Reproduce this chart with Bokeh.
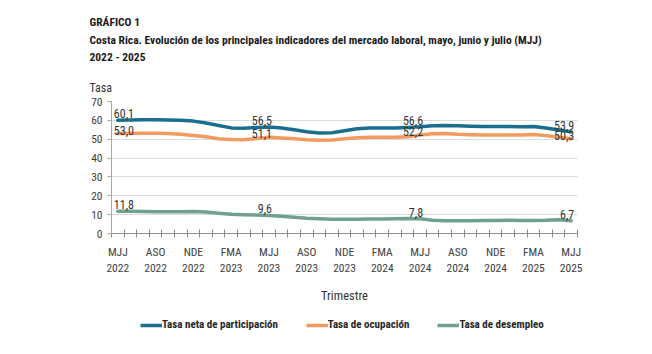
from bokeh.plotting import figure
from bokeh.layouts import column
from bokeh.models import FixedTicker, Legend, LegendItem, ColumnDataSource, Title, LinearAxis
from bokeh.embed import file_html
from bokeh.resources import INLINE
from bokeh.core.properties import value

FONT = "'Liberation Sans Narrow', 'Noto Sans Condensed', 'Roboto Condensed', 'DejaVu Sans Condensed', sans-serif"

# ---- data ----
months = list(range(37))  # rolling quarters MJJ 2022 ... MJJ 2025
tick_pos = [0, 3, 6, 9, 12, 15, 18, 21, 24, 27, 30, 33, 36]
quarter_labels = ["MJJ", "ASO", "NDE", "FMA", "MJJ", "ASO", "NDE", "FMA",
                  "MJJ", "ASO", "NDE", "FMA", "MJJ"]
year_labels = ["2022", "2022", "2022", "2023", "2023", "2023", "2023", "2024",
               "2024", "2024", "2024", "2025", "2025"]
y_ticks = [0, 10, 20, 30, 40, 50, 60, 70]

participacion = [60.1, 60.2, 60.3, 60.3, 60.2, 60.0, 59.6, 58.6, 57.3, 56.0,
                 55.8, 56.2, 56.5, 56.0, 55.0, 54.0, 53.3, 53.4, 54.5, 55.5,
                 55.9, 56.0, 55.9, 56.2, 56.6, 57.2, 57.3, 57.1, 56.9, 56.8,
                 56.8, 56.7, 56.6, 56.8, 56.0, 54.9, 53.9]
ocupacion = [53.0, 53.0, 53.1, 53.2, 53.0, 52.6, 52.0, 51.3, 50.3, 49.8,
             49.7, 50.4, 51.1, 50.7, 50.2, 49.7, 49.4, 49.6, 50.2, 50.8,
             51.0, 51.1, 51.1, 51.3, 52.2, 52.9, 53.0, 52.6, 52.4, 52.3,
             52.3, 52.2, 52.3, 52.5, 51.9, 51.0, 50.3]
desempleo = [11.8, 11.8, 11.7, 11.6, 11.6, 11.6, 11.7, 11.4, 10.8, 10.2,
             10.0, 9.8, 9.6, 9.2, 8.6, 8.1, 7.8, 7.6, 7.5, 7.6,
             7.7, 7.7, 7.8, 8.0, 7.8, 7.0, 6.7, 6.7, 6.8, 6.9,
             6.9, 7.0, 6.9, 6.9, 7.0, 7.3, 6.7]
label_idx = [0, 12, 24, 36]

series_names = ["Tasa neta de participación", "Tasa de ocupación", "Tasa de desempleo"]
colors = ["#1b6f8e", "#f39a5f", "#6fa090"]
series = [participacion, ocupacion, desempleo]
label_dy = [-2, 1, -2]

p = figure(width=652, height=310,
           x_range=(-0.5, 36.5), y_range=(0, 70),
           output_backend="svg", toolbar_location=None,
           min_border_left=111, min_border_right=75,
           min_border_top=101, min_border_bottom=77)
p.title_location = None
p.outline_line_color = None
p.background_fill_color = "white"
p.border_fill_color = "white"

for vals, col in zip(series, colors):
    p.line(months, vals, line_color=col, line_width=3.5, line_join="round", line_cap="round")

# data labels
for vals, dy in zip(series, label_dy):
    first = ColumnDataSource(dict(x=[label_idx[0]], y=[vals[label_idx[0]]],
                                  t=[f"{vals[label_idx[0]]:.1f}".replace(".", ",")]))
    rest = ColumnDataSource(dict(x=label_idx[1:], y=[vals[i] for i in label_idx[1:]],
                                 t=[f"{vals[i]:.1f}".replace(".", ",") for i in label_idx[1:]]))
    p.text("x", "y", text="t", source=first, text_align="left", text_baseline="bottom",
           x_offset=-4, y_offset=dy, text_font=value(FONT), text_font_size="12px",
           text_color="#333333")
    p.text("x", "y", text="t", source=rest, text_align="right", text_baseline="bottom",
           x_offset=3, y_offset=dy, text_font=value(FONT), text_font_size="12px",
           text_color="#333333")

# x axis 1: month ticks + quarter labels
xa = p.xaxis[0]
xa.ticker = FixedTicker(ticks=tick_pos, minor_ticks=[i - 0.5 for i in range(38)])
xa.major_label_overrides = {t: l for t, l in zip(tick_pos, quarter_labels)}
xa.major_tick_in = 0
xa.major_tick_out = 0
xa.minor_tick_in = 4
xa.minor_tick_out = 4
xa.minor_tick_line_color = "#8c8c8c"
xa.axis_line_color = "#8c8c8c"
xa.major_label_standoff = 7
xa.major_label_text_font = FONT
xa.major_label_text_font_size = "11.5px"
xa.major_label_text_color = "#404040"

# x axis 2: year labels + axis title
xa2 = LinearAxis(ticker=FixedTicker(ticks=tick_pos),
                 major_label_overrides={t: l for t, l in zip(tick_pos, year_labels)},
                 axis_line_color=None, major_tick_line_color=None, minor_tick_line_color=None,
                 major_tick_in=0, major_tick_out=0, major_label_standoff=2,
                 major_label_text_font=FONT, major_label_text_font_size="11.5px",
                 major_label_text_color="#404040",
                 axis_label="Trimestre", axis_label_text_font=FONT,
                 axis_label_text_font_size="12.5px", axis_label_text_font_style="normal",
                 axis_label_text_color="#333333", axis_label_standoff=13)
p.add_layout(xa2, "below")

ya = p.yaxis[0]
ya.ticker = FixedTicker(ticks=y_ticks)
ya.major_tick_in = 0
ya.major_tick_out = 4
ya.minor_tick_line_color = None
ya.major_tick_line_color = "#a6a6a6"
ya.axis_line_color = "#a6a6a6"
ya.major_label_standoff = 5
ya.major_label_text_font = FONT
ya.major_label_text_font_size = "11.5px"
ya.major_label_text_color = "#404040"

p.xgrid.grid_line_color = None
p.ygrid.ticker = FixedTicker(ticks=y_ticks)
p.ygrid.grid_line_color = "#dcdcdc"
p.ygrid.grid_line_width = 1

# titles, stacked upward from the frame
def add_title(txt, size, style, standoff, color="#1a1a1a", lh=1.2):
    p.add_layout(Title(text=txt, align="left", offset=-22, standoff=standoff,
                       text_font=FONT, text_font_size=size, text_font_style=style,
                       text_color=color, text_line_height=lh), "above")

add_title("Tasa", "12px", "normal", 14, color="#333333")
add_title("GRÁFICO 1\nCosta Rica. Evolución de los principales indicadores del mercado laboral, mayo, junio y julio (MJJ)\n2022 - 2025",
          "11.5px", "bold", 15, lh=1.25)

# legend strip: same series drawn outside its visible range, only the legend shows.
# Same horizontal borders as the chart so the column keeps the chart frame in place.
p2 = figure(width=652, height=44, x_range=(0, 1), y_range=(0, 1),
            output_backend="svg", toolbar_location=None,
            x_axis_location=None, y_axis_location=None,
            min_border_left=111, min_border_right=75, min_border_top=0, min_border_bottom=0)
p2.title_location = None
p2.outline_line_color = None
p2.grid.visible = False
p2.border_fill_color = "white"
leg_renderers = [p2.line(months, vals, line_color=col, line_width=3.5)
                 for vals, col in zip(series, colors)]
legend = Legend(items=[LegendItem(label=n, renderers=[r]) for n, r in zip(series_names, leg_renderers)],
                orientation="horizontal", location=(29, 23),
                glyph_width=22, glyph_height=12, label_standoff=0, spacing=28,
                padding=0, margin=0, label_height=12,
                label_text_font=FONT, label_text_font_size="11px",
                label_text_font_style="bold", label_text_color="#262626",
                background_fill_alpha=0, border_line_alpha=0)
p2.add_layout(legend, "center")

open("out.html", "w").write(file_html(column(p, p2, spacing=0), INLINE))
